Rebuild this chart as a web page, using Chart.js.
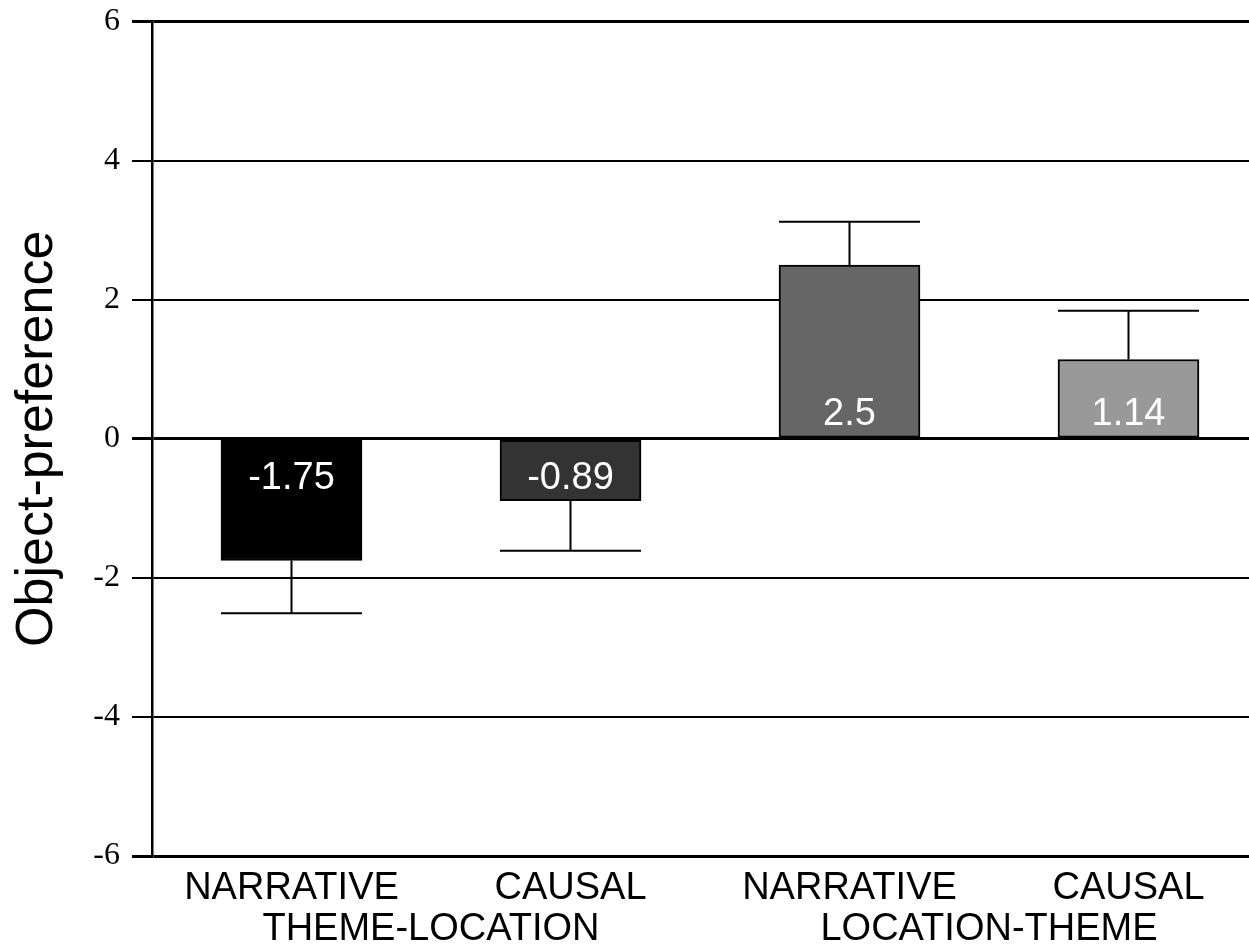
<!DOCTYPE html>
<html>
<head>
<meta charset="utf-8">
<script src="https://cdn.jsdelivr.net/npm/chart.js@4.4.0/dist/chart.umd.min.js"></script>
<style>
  body { margin: 0; overflow: hidden; background: #fff; }
  #wrap { width: 1268px; height: 945px; }
</style>
</head>
<body>
<div id="wrap"><canvas id="chart"></canvas></div>
<script>
// values
const conditions = ['NARRATIVE', 'CAUSAL', 'NARRATIVE', 'CAUSAL'];
const groups = ['THEME-LOCATION', 'LOCATION-THEME'];
const means = [-1.75, -0.89, 2.5, 1.14];
const errors = [0.76, 0.72, 0.62, 0.70];
const barColors = ['#000000', '#333333', '#666666', '#999999'];

const SANS = '"Liberation Sans", Arial, Helvetica, sans-serif';
const SERIF = '"Liberation Serif", "Times New Roman", serif';

// error bars: a stem away from zero and a cap the width of the bar
const errorBars = {
    id: 'errorBars',
    afterDatasetsDraw(chart) {
        const ctx = chart.ctx;
        const y = chart.scales.y;
        const bars = chart.getDatasetMeta(0).data;
        ctx.save();
        ctx.strokeStyle = '#000';
        ctx.lineWidth = 2;
        bars.forEach((bar, i) => {
            const v = means[i];
            const end = v < 0 ? v - errors[i] : v + errors[i];
            const y0 = y.getPixelForValue(v);
            const y1 = y.getPixelForValue(end);
            ctx.beginPath();
            ctx.moveTo(bar.x, y0);
            ctx.lineTo(bar.x, y1);
            ctx.moveTo(bar.x - bar.width / 2, y1);
            ctx.lineTo(bar.x + bar.width / 2, y1);
            ctx.stroke();
        });
        ctx.restore();
    }
};

// white value labels just inside each bar, next to the zero line
const valueLabels = {
    id: 'valueLabels',
    afterDatasetsDraw(chart) {
        const ctx = chart.ctx;
        const zero = chart.scales.y.getPixelForValue(0);
        const bars = chart.getDatasetMeta(0).data;
        ctx.save();
        ctx.fillStyle = '#fff';
        ctx.font = '38px ' + SANS;
        ctx.textAlign = 'center';
        ctx.textBaseline = 'alphabetic';
        bars.forEach((bar, i) => {
            const yy = means[i] < 0 ? zero + 50 : zero - 14;
            ctx.fillText(String(means[i]), bar.x, yy);
        });
        ctx.restore();
    }
};

// second row of x labels, centred under each pair of bars
const groupLabels = {
    id: 'groupLabels',
    afterDraw(chart) {
        const ctx = chart.ctx;
        const x = chart.scales.x;
        ctx.save();
        ctx.fillStyle = '#000';
        ctx.font = '38px ' + SANS;
        ctx.textAlign = 'center';
        ctx.textBaseline = 'alphabetic';
        groups.forEach((g, i) => {
            const cx = (x.getPixelForValue(i * 2) + x.getPixelForValue(i * 2 + 1)) / 2;
            ctx.fillText(g, cx, 940);
        });
        ctx.restore();
    }
};

new Chart(document.getElementById('chart'), {
    type: 'bar',
    data: {
        labels: conditions,
        datasets: [{
            data: means,
            backgroundColor: barColors,
            borderColor: '#000',
            borderWidth: 2,
            borderSkipped: false,
            barThickness: 141
        }]
    },
    options: {
        responsive: true,
        maintainAspectRatio: false,
        animation: false,
        layout: { padding: { top: 20, right: 0, left: 0, bottom: 0 } },
        plugins: {
            legend: { display: false },
            tooltip: { enabled: false }
        },
        scales: {
            x: {
                offset: true,
                grid: { display: false, drawTicks: false },
                border: { display: false },
                ticks: {
                    color: '#000',
                    font: { family: SANS, size: 38 },
                    padding: 10,
                    maxRotation: 0,
                    autoSkip: false
                },
                afterFit(scale) { scale.height = 89; }
            },
            y: {
                min: -6,
                max: 6,
                ticks: {
                    stepSize: 2,
                    color: '#000',
                    font: { family: SERIF, size: 32, lineHeight: 0.6 },
                    padding: 12
                },
                grid: {
                    color: '#000',
                    lineWidth: c => [-6, 0, 6].includes(c.tick.value) ? 3 : 2,
                    tickLength: 20
                },
                border: { color: '#000', width: 2.5 },
                title: {
                    display: true,
                    text: 'Object-preference',
                    color: '#000',
                    font: { family: SANS, size: 52 },
                    padding: { top: 6, bottom: 0 }
                },
                afterFit(scale) { scale.width = 152; }
            }
        }
    },
    plugins: [errorBars, valueLabels, groupLabels]
});
</script>
</body>
</html>
